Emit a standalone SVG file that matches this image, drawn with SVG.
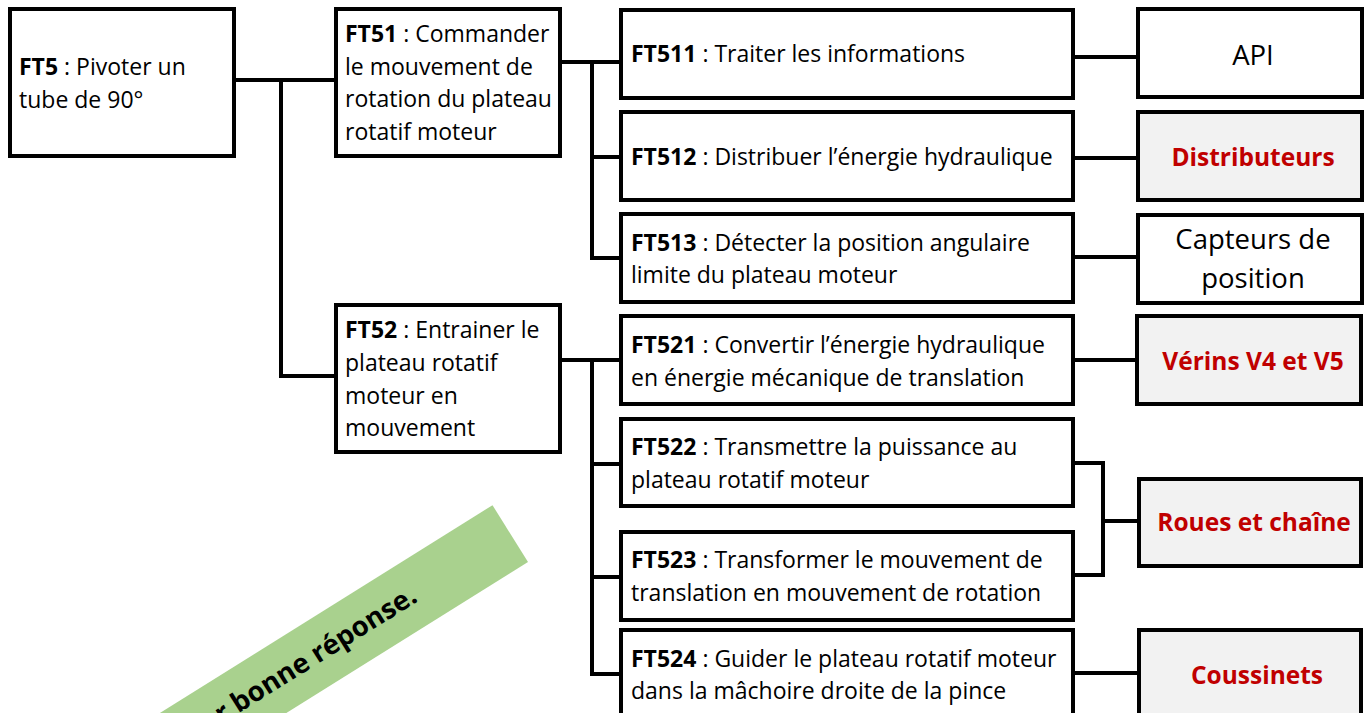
<svg xmlns="http://www.w3.org/2000/svg" width="1365" height="713" viewBox="0 0 1365 713">
<style>
.box{fill:#fff;stroke:#000;stroke-width:4}
.gbox{fill:#f2f2f2;stroke:#000;stroke-width:4}
.conn{fill:none;stroke:#000;stroke-width:4}
text{font-family:"Open Sans","Liberation Sans",sans-serif;font-size:23px;fill:#000}
.b{font-weight:bold}
.res{font-size:27.5px;text-anchor:middle}
.red{font-weight:bold;fill:#c00000;font-size:24.5px;text-anchor:middle}
</style>
<rect width="1365" height="713" fill="#fff"/>
<g id="banner" transform="translate(528,562) rotate(-32)">
<rect x="-700" y="-67" width="700" height="67" fill="#a9d18e"/>
<text x="-113" y="-25" text-anchor="end" style="font-weight:bold;font-size:27.5px">ar bonne réponse.</text>
</g>
<g id="connectors">
<path class="conn" d="M236 80H334M281 78V376H334"/>
<path class="conn" d="M560 62H621M592 60V258H621M592 157H621"/>
<path class="conn" d="M560 360H621M592 358V674H621M592 464H621M592 577H621"/>
<path class="conn" d="M1073 57H1138M1073 158H1138M1073 257H1138M1073 360H1137M1073 463H1103V575H1073M1103 521H1139M1073 673H1139"/>
</g>
<g id="FT5"><rect class="box" x="10" y="9" width="224" height="147"/>
<text x="19" y="75"><tspan class="b">FT5</tspan> : Pivoter un</text><text x="19" y="108">tube de 90°</text></g>
<g id="FT51"><rect class="box" x="336" y="9" width="224" height="147"/>
<text x="345" y="42"><tspan class="b">FT51</tspan> : Commander</text><text x="345" y="75">le mouvement de</text><text x="345" y="107">rotation du plateau</text><text x="345" y="140">rotatif moteur</text></g>
<g id="FT52"><rect class="box" x="336" y="305" width="224" height="147"/>
<text x="345" y="338"><tspan class="b">FT52</tspan> : Entrainer le</text><text x="345" y="371">plateau rotatif</text><text x="345" y="404">moteur en</text><text x="345" y="436">mouvement</text></g>
<g id="FT511"><rect class="box" x="621" y="10" width="452" height="88"/>
<text x="631" y="62"><tspan class="b">FT511</tspan> : Traiter les informations</text></g>
<g id="FT512"><rect class="box" x="621" y="112" width="452" height="88"/>
<text x="631" y="165"><tspan class="b">FT512</tspan> : Distribuer l’énergie hydraulique</text></g>
<g id="FT513"><rect class="box" x="621" y="214" width="452" height="88"/>
<text x="631" y="251"><tspan class="b">FT513</tspan> : Détecter la position angulaire</text><text x="631" y="283">limite du plateau moteur</text></g>
<g id="FT521"><rect class="box" x="621" y="316" width="452" height="88"/>
<text x="631" y="353"><tspan class="b">FT521</tspan> : Convertir l’énergie hydraulique</text><text x="631" y="386">en énergie mécanique de translation</text></g>
<g id="FT522"><rect class="box" x="621" y="419" width="452" height="87"/>
<text x="631" y="455"><tspan class="b">FT522</tspan> : Transmettre la puissance au</text><text x="631" y="488">plateau rotatif moteur</text></g>
<g id="FT523"><rect class="box" x="621" y="532" width="452" height="88"/>
<text x="631" y="568"><tspan class="b">FT523</tspan> : Transformer le mouvement de</text><text x="631" y="601">translation en mouvement de rotation</text></g>
<g id="FT524"><rect class="box" x="621" y="630" width="452" height="100"/>
<text x="631" y="667"><tspan class="b">FT524</tspan> : Guider le plateau rotatif moteur</text><text x="631" y="699">dans la mâchoire droite de la pince</text></g>
<g id="API"><rect class="box" x="1138" y="9" width="224" height="88"/>
<text class="res" x="1253" y="65">API</text></g>
<g id="Distributeurs"><rect class="gbox" x="1138" y="112" width="224" height="88"/>
<text class="red" x="1253" y="166">Distributeurs</text></g>
<g id="Capteurs"><rect class="box" x="1138" y="215" width="224" height="88"/>
<text class="res" x="1253" y="249">Capteurs de</text><text class="res" x="1253" y="288">position</text></g>
<g id="Verins"><rect class="gbox" x="1137" y="316" width="224" height="88"/>
<text class="red" x="1253" y="370">Vérins V4 et V5</text></g>
<g id="Roues"><rect class="gbox" x="1139" y="479" width="222" height="87"/>
<text class="red" x="1254" y="531">Roues et chaîne</text></g>
<g id="Coussinets"><rect class="gbox" x="1139" y="630" width="222" height="100"/>
<text class="red" x="1257" y="684">Coussinets</text></g>
</svg>
